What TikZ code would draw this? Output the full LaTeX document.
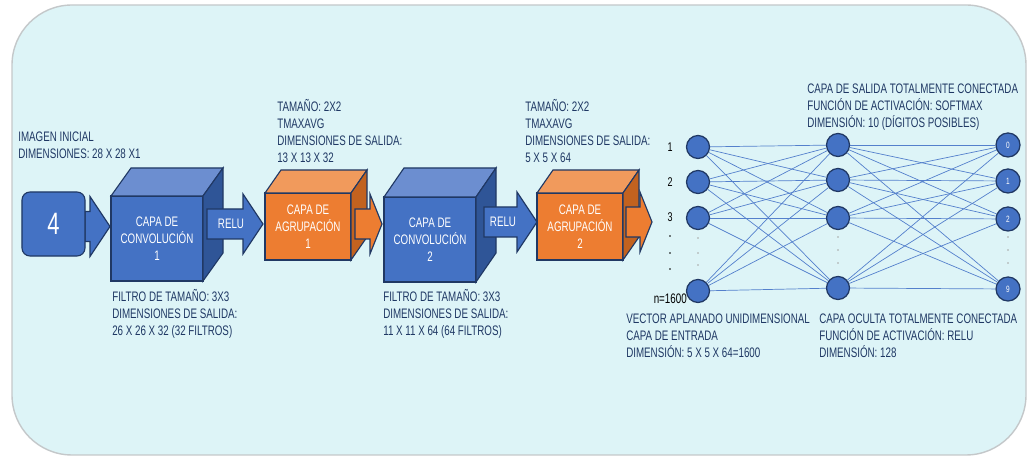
\documentclass[tikz,border=0pt]{standalone}
\usepackage{fontspec}
\setmainfont{Liberation Sans}[FakeStretch=0.71]
\usetikzlibrary{calc}
\definecolor{fondo}{HTML}{DDF4F7}
\definecolor{marco}{HTML}{C4C8CA}
\definecolor{azul}{HTML}{4472C4}
\definecolor{azulclaro}{HTML}{6C8ED0}
\definecolor{azuloscuro}{HTML}{2F5597}
\definecolor{naranja}{HTML}{ED7D31}
\definecolor{naranjaclaro}{HTML}{F19A5C}
\definecolor{naranjaoscuro}{HTML}{C2621F}
\definecolor{borde}{HTML}{203864}
\definecolor{texto}{HTML}{1F3864}
\definecolor{linea}{HTML}{5480CC}
\newcommand{\letra}{\fontsize{9.8}{11.9}\selectfont}
% caras de arriba y de la derecha de un bloque
\newcommand{\caras}[4]{%
  \draw[fill=#2, draw=borde, line width=0.8pt] (#1.north west) -- ++(#4) -- ($(#1.north east)+(#4)$) -- (#1.north east) -- cycle;
  \draw[fill=#3, draw=borde, line width=0.8pt] (#1.north east) -- ++(#4) -- ($(#1.south east)+(#4)$) -- (#1.south east) -- cycle;}
% flecha gruesa: color, cola, largo del cuerpo, largo de la punta
\newcommand{\flecha}[4]{%
  \draw[fill=#1, draw=borde, line width=0.8pt] (#2) ++(0,-15) -- ++(#3,0) -- ++(0,-15) -- ++(#4,30) -- ++(-#4,30) -- ++(0,-15) -- ++(-#3,0) -- cycle;}
\tikzset{
  conv/.style={draw=borde, fill=azul, line width=0.8pt, minimum width=2.3cm, minimum height=2.125cm, inner sep=0pt, outer sep=0pt, text=white, align=center, font=\letra},
  agrup/.style={conv, fill=naranja, minimum width=2.15cm, minimum height=1.675cm},
  nota/.style={anchor=north west, inner sep=0pt, align=left, text=texto, font=\letra},
  neurona/.style={circle, draw=borde, fill=azul, line width=0.9pt, minimum size=0.575cm, inner sep=0pt, text=white, font=\fontsize{6.5}{6.5}\selectfont},
  conexion/.style={draw=linea, line width=0.5pt},
  punto/.style={fill=gray!70}
}
\begin{document}
\begin{tikzpicture}[x=0.025cm, y=-0.025cm]
		\useasboundingbox (0,0) rectangle (1034,457);
		\draw[fill=fondo, draw=marco, line width=1pt, rounded corners=1.5cm] (12,5) rectangle (1026,455);
		
		%%%%% IMAGEN Y CONVOLUCION 1 %%%%%
		\flecha{azul}{85,226.5}{5}{20}
		\node[conv, minimum width=1.575cm, minimum height=1.6cm, rounded corners=0.2cm, font=\fontsize{22}{22}\selectfont] (img) at (53.5,224) {4};
		\node[nota] (tximg) at (18,132) {IMAGEN INICIAL\\DIMENSIONES: 28 X 28 X1};
		
		\node[conv] (conv1) at (157,238.5) {CAPA DE\\CONVOLUCIÓN\\1};
		\caras{conv1}{azulclaro}{azuloscuro}{20,-28}
		\node[nota] (txconv1) at (112,289.5) {FILTRO DE TAMAÑO: 3X3\\DIMENSIONES DE SALIDA:\\26 X 26 X 32 (32 FILTROS)};
		\flecha{azul}{207,224}{36}{20}
		\node[text=white, font=\letra] (relu1) at (231,224) {RELU};
		
		%%%%% AGRUPACION 1 %%%%%
		\node[agrup] (agr1) at (308,226.5) {CAPA DE\\AGRUPACIÓN\\1};
		\caras{agr1}{naranjaclaro}{naranjaoscuro}{16,-23}
		\node[nota] (txagr1) at (277,99.5) {TAMAÑO: 2X2\\TMAXAVG\\DIMENSIONES DE SALIDA:\\13 X 13 X 32};
		\flecha{naranja}{355,224}{15}{12}
		
		%%%%% CONVOLUCION 2 %%%%%
		\node[conv] (conv2) at (430,239.5) {CAPA DE\\CONVOLUCIÓN\\2};
		\caras{conv2}{azulclaro}{azuloscuro}{20,-29}
		\node[nota] (txconv2) at (383,289.5) {FILTRO DE TAMAÑO: 3X3\\DIMENSIONES DE SALIDA:\\11 X 11 X 64 (64 FILTROS)};
		\flecha{azul}{484,222}{33}{20}
		\node[text=white, font=\letra] (relu2) at (503,222) {RELU};
		
		%%%%% AGRUPACION 2 %%%%%
		\node[agrup] (agr2) at (580,226.5) {CAPA DE\\AGRUPACIÓN\\2};
		\caras{agr2}{naranjaclaro}{naranjaoscuro}{16,-23}
		\node[nota] (txagr2) at (525,99.5) {TAMAÑO: 2X2\\TMAXAVG\\DIMENSIONES DE SALIDA:\\5 X 5 X 64};
		\flecha{naranja}{626,222}{14}{12}
		
		%%%%% RED TOTALMENTE CONECTADA %%%%%
		\node[neurona] (e1) at (698,147) {};
		\node[neurona] (e2) at (698,182) {};
		\node[neurona] (e3) at (698,218) {};
		\node[neurona] (en) at (698,291) {};
		\node[neurona] (o1) at (838,145) {};
		\node[neurona] (o2) at (838,180) {};
		\node[neurona] (o3) at (838,218) {};
		\node[neurona] (on) at (838,288) {};
		\node[neurona, minimum size=0.6cm] (s0) at (1008,145) {0};
		\node[neurona, minimum size=0.6cm] (s1) at (1008,181) {1};
		\node[neurona, minimum size=0.6cm] (s2) at (1008,219) {2};
		\node[neurona, minimum size=0.6cm] (s9) at (1008,289) {9};
		\foreach \a in {e1,e2,e3,en}
			\foreach \b in {o1,o2,o3,on}
				\draw[conexion] (\a) -- (\b);
		\foreach \a in {o1,o2,o3,on}
			\foreach \b in {s0,s1,s2,s9}
				\draw[conexion] (\a) -- (\b);
		
		\node[font=\fontsize{9}{9}\selectfont] (l1) at (670,147) {1};
		\node[font=\fontsize{9}{9}\selectfont] (l2) at (670,182) {2};
		\node[font=\fontsize{9}{9}\selectfont] (l3) at (670,217) {3};
		\node[anchor=east, inner sep=0pt, font=\letra] (ln) at (687,299) {n=1600};
		\foreach \y in {236,253,269} \fill (670,\y) circle (0.6pt);
		\foreach \y in {238,253,265} \fill[punto] (698,\y) circle (0.6pt);
		\foreach \x in {838,1008}
			\foreach \y in {237,250,263} \fill[punto] (\x,\y) circle (0.6pt);
		
		\node[nota] (txsal) at (807,84) {CAPA DE SALIDA TOTALMENTE CONECTADA\\FUNCIÓN DE ACTIVACIÓN: SOFTMAX\\DIMENSIÓN: 10 (DÍGITOS POSIBLES)};
		\node[nota] (txent) at (626,314) {VECTOR APLANADO UNIDIMENSIONAL\\CAPA DE ENTRADA\\DIMENSIÓN: 5 X 5 X 64=1600};
		\node[nota] (txocu) at (819,314) {CAPA OCULTA TOTALMENTE CONECTADA\\FUNCIÓN DE ACTIVACIÓN: RELU\\DIMENSIÓN: 128};
		
	\end{tikzpicture}
\end{document}
